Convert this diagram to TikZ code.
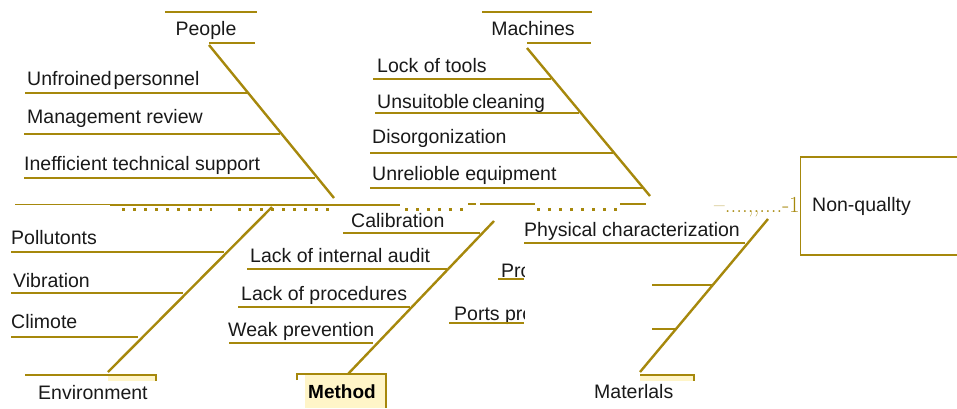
\documentclass[tikz,border=0pt]{standalone}
\usepackage{fontspec}
\newfontfamily\arialf{Liberation Sans}
\newfontfamily\lmserif{Latin Modern Roman}
\definecolor{gold}{RGB}{166,136,12}
\definecolor{lightyel}{RGB}{255,245,200}
\begin{document}
\begin{tikzpicture}[x=1pt,y=-1pt,
  lbl/.style={inner sep=0pt, anchor=base west, font=\arialf\fontsize{19.5}{22}\selectfont, text=black!90},
  headlbl/.style={inner sep=0pt, anchor=base, font=\arialf\fontsize{19.5}{22}\selectfont, text=black!90},
  bone/.style={draw=gold, line width=2.4pt},
  rib/.style={draw=gold, line width=1.3pt},
  spine/.style={draw=gold, line width=2pt},
  dots/.style={draw=gold, line width=3pt, dash pattern=on 3pt off 8pt}]
\useasboundingbox (0,0) rectangle (957,408);
\clip (0,0) rectangle (957,408);

% ---------- spine ----------
\draw[gold, line width=1pt] (15,204.5) -- (110,204.5);
\draw[spine] (110,204.5) -- (400,204.5);
\draw[gold, line width=2.8pt] (110,205) -- (121,205);
\draw[gold, line width=2.8pt] (215,205) -- (236,205);
\draw[dots] (122,209) -- (212,209);
\draw[dots] (238,209) -- (336,209);
\draw[dots] (405,209) -- (466,209);
\draw[dots] (537,209) -- (617,209);
\draw[spine] (468,204) -- (476,204);
\draw[spine] (480,203.5) -- (535,203.5);
\draw[spine] (620,204) -- (646,204);

% ---------- diagonals ----------
\coordinate (Pt) at (209,45);  \coordinate (Pb) at (334,198);
\coordinate (Mt) at (527,48);  \coordinate (Mb) at (650,196);
\coordinate (Et) at (272,207); \coordinate (Eb) at (108,372);
\coordinate (Dt) at (494,221); \coordinate (Db) at (348,374);
\coordinate (Rt) at (768,219); \coordinate (Rb) at (640,372);
\draw[bone] (Pt) -- (Pb);
\draw[bone] (Mt) -- (Mb);
\draw[bone] (Et) -- (Eb);
\draw[bone] (Dt) -- (Db);
\draw[bone] (Rt) -- (Rb);

% ---------- People ----------
\draw[rib] (165,12) -- (257,12);
\draw[gold, line width=2pt] (209,43) -- (255,43);
\node[headlbl] (people) at (206,35) {People};
\node[lbl] (p1) at (27,85) {Unfroined\kern2pt personnel};
\draw[rib] (25,93) -- (248,93);
\node[lbl] (p2) at (27,123) {Management review};
\draw[rib] (24,134) -- (280,134);
\node[lbl] (p3) at (24,170) {Inefficient technical support};
\draw[rib] (24,178) -- (315,178);

% ---------- Machines ----------
\draw[rib] (482,12) -- (592,12);
\draw[gold, line width=2pt] (527,43) -- (591,43);
\node[headlbl] (machines) at (533,35) {Machines};
\node[lbl] (m1) at (377,72) {Lock of tools};
\draw[rib] (373,79) -- (551,79);
\node[lbl] (m2) at (377,108) {Unsuitoble\kern3pt cleaning};
\draw[rib] (375,113) -- (579,113);
\node[lbl] (m3) at (372,143) {Disorgonization};
\draw[rib] (370,153) -- (613,153);
\node[lbl] (m4) at (372,180) {Unrelioble equipment};
\draw[rib] (370,188) -- (643,188);

% ---------- Environment ----------
\fill[lightyel] (108,375) rectangle (156,381);
\draw[rib] (25,375) -- (156,375) -- (156,381);
\node[lbl] (env) at (38,399) {Environment};
\node[lbl] (e1) at (11,244) {Pollutonts};
\draw[rib] (11,252) -- (224,252);
\node[lbl] (e2) at (13,287) {Vibration};
\draw[rib] (11,293) -- (183,293);
\node[lbl] (e3) at (11,328) {Climote};
\draw[rib] (11,337) -- (138,337);

% ---------- Method ----------
\fill[lightyel] (305,375) rectangle (386,408);
\draw[rib] (297,380) -- (297,374) -- (386,374) -- (386,408);
\node[lbl, font=\arialf\bfseries\fontsize{19}{22}\selectfont, text=black] (method) at (308,398) {Method};
\node[lbl] (d1) at (351,227) {Calibration};
\draw[rib] (343,233) -- (480,233);
\node[lbl] (d2) at (250,262) {Lack of internal audit};
\draw[rib] (247,269) -- (447,269);
\node[lbl] (d3) at (241,300) {Lack of procedures};
\draw[rib] (238,307) -- (410,307);
\node[lbl] (d4) at (228,336) {Weak prevention};
\draw[rib] (229,343) -- (373,343);

% ---------- Materials ----------
\fill[lightyel] (640,376) rectangle (694,381);
\draw[rib] (640,375) -- (694,375) -- (694,381);
\node[lbl] (mat) at (594,398) {Materlals};
\node[lbl] (r1) at (524,236) {Physical characterization};
\draw[rib] (524,243) -- (745,243);
\draw[rib] (652,285) -- (712,285);
\draw[rib] (652,329) -- (675,329);
\begin{scope}
  \clip (440,260) rectangle (524,330);
  \node[lbl] (r2) at (501,277) {Pro};
  \draw[gold, line width=2pt] (498,279) -- (524,279);
  \node[lbl] (r3) at (454,320) {Ports pro};
  \draw[gold, line width=2pt] (449,323) -- (524,323);
\end{scope}

% ---------- head ----------
\draw[gold, line width=1.3pt] (800.5,157) rectangle (975,255);
\node[lbl] (nq) at (812,211) {Non-quallty};
\node[inner sep=0pt, anchor=base west, font=\lmserif\fontsize{23}{26}\selectfont, text=gold] (junk) at (714,212) {–....,,....-1};
\end{tikzpicture}
\end{document}
